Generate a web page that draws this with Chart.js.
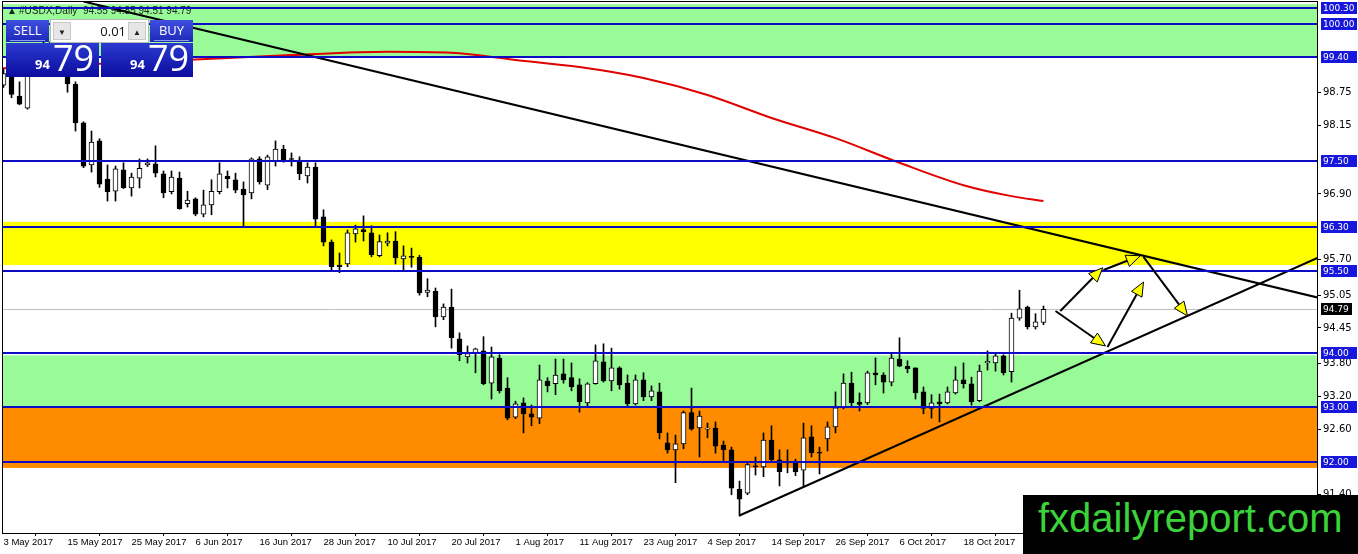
<!DOCTYPE html>
<html>
<head>
<meta charset="utf-8">
<title>#USDX,Daily</title>
<script src="https://cdn.jsdelivr.net/npm/chart.js@4.4.1/dist/chart.umd.min.js"></script>
<style>
	html, body { margin: 0; padding: 0; background: #fff; }
	#wrap { position: relative; width: 1358px; height: 554px; overflow: hidden; }
	#chart { position: absolute; left: 0; top: 0; }

	/* one-click trading panel */
	#panel { position: absolute; left: 5px; top: 19px; width: 189px; height: 58px; font-family: 'Open Sans', sans-serif; }
	#panel .btn { position: absolute; top: 1px; width: 43px; height: 22px; color: #fff; font-size: 13px; line-height: 21px; text-align: center;
		background: linear-gradient(#3f4fe0, #1d28b8); }
	#panel .btn:after { content: ''; position: absolute; left: 4px; right: 4px; bottom: 1px; height: 1px; background: #8f9cf0; }
	#panel .sell { left: 1px; }
	#panel .buy { left: 145px; }
	#panel .lot { position: absolute; left: 45px; top: 0; width: 97px; height: 22px; background: #fff; border: 1px solid #b8b8b8; }
	#panel .lot .arr { position: absolute; top: 2px; width: 18px; height: 18px; background: #e6e6e6; border: 1px solid #c8c8c8; box-sizing: border-box;
		font-size: 8px; line-height: 17px; text-align: center; color: #222; }
	#panel .lot .down { left: 2px; }
	#panel .lot .up { right: 2px; }
	#panel .lot .val { position: absolute; right: 22px; top: 0; font-size: 13px; line-height: 22px; color: #111; }
	#panel .price { position: absolute; top: 24px; height: 34px; color: #fff; background: linear-gradient(#2c3ad0, #0b0c9e); }
	#panel .p1 { left: 1px; width: 93px; }
	#panel .p2 { left: 96px; width: 92px; }
	#panel .price .sm { position: absolute; bottom: 4px; font-size: 13px; font-weight: bold; }
	#panel .price .lg { position: absolute; bottom: -5px; font-size: 36px; }
	#panel .p1 .sm { left: 29px; }
	#panel .p1 .lg { left: 47px; }
	#panel .p2 .sm { left: 29px; }
	#panel .p2 .lg { left: 47px; }

	#brand { position: absolute; left: 1023px; top: 495px; width: 335px; height: 59px; background: #000; }
	#brand span { position: absolute; left: 15px; top: 1px; font-family: 'Liberation Sans', Arial, sans-serif; font-size: 40px; color: #3ad43a; white-space: nowrap; }
</style>
</head>
<body>
<div id="wrap">
	<canvas id="chart" width="1358" height="554"></canvas>
	<div id="panel">
		<div class="btn sell">SELL</div>
		<div class="lot"><div class="arr down">&#9660;</div><span class="val">0.01</span><div class="arr up">&#9650;</div></div>
		<div class="btn buy">BUY</div>
		<div class="price p1"><span class="sm">94</span><span class="lg">79</span></div>
		<div class="price p2"><span class="sm">94</span><span class="lg">79</span></div>
	</div>
	<div id="brand"><span>fxdailyreport.com</span></div>
</div>
<script>
	// Daily bars, index 0 = 3 May 2017
	var opens = [
		98.89, 99.10, 98.69, 98.47, 99.10, 99.60, 99.62, 99.68, 99.15, 98.91,
		98.20, 97.43, 97.87, 97.17, 96.95, 97.34, 97.01, 97.19, 97.43, 97.45,
		97.27, 96.94, 97.19, 96.72, 96.81, 96.53, 96.70, 96.94, 97.22, 97.16,
		96.99, 96.92, 97.54, 97.06, 97.50, 97.72, 97.54, 97.52, 97.23, 97.39,
		96.48, 96.02, 95.60, 95.62, 96.17, 96.25, 96.19, 95.77, 96.00, 96.04,
		95.71, 95.75, 95.74, 95.10, 95.12, 94.65, 94.83, 94.25, 93.92, 93.98,
		94.03, 93.44, 93.90, 93.35, 92.82, 93.08, 92.88, 92.80, 93.48, 93.43,
		93.61, 93.54, 93.41, 93.08, 93.43, 93.83, 93.48, 93.72, 93.44, 93.06,
		93.50, 93.19, 93.28, 92.35, 92.22, 92.33, 92.90, 92.62, 92.60, 92.62,
		92.31, 92.22, 91.50, 91.43, 91.93, 91.91, 92.40, 92.04, 92.00, 91.98,
		91.85, 92.46, 92.17, 92.42, 92.64, 92.99, 93.44, 93.09, 93.08, 93.63,
		93.59, 93.46, 93.88, 93.75, 93.72, 93.28, 92.98, 93.10, 93.08, 93.26,
		93.50, 93.43, 93.12, 93.81, 93.81, 93.94, 93.65, 94.63, 94.83, 94.47,
		94.55
	];
	var highs = [
		99.20, 99.18, 98.95, 99.20, 99.65, 99.72, 99.75, 99.70, 99.25, 98.95,
		98.22, 98.05, 97.91, 97.43, 97.41, 97.47, 97.28, 97.54, 97.54, 97.78,
		97.32, 97.32, 97.30, 96.95, 96.83, 96.97, 97.16, 97.47, 97.32, 97.28,
		97.12, 97.56, 97.58, 97.61, 97.87, 97.79, 97.65, 97.58, 97.47, 97.47,
		96.61, 96.06, 95.82, 96.24, 96.33, 96.50, 96.32, 96.15, 96.19, 96.21,
		95.95, 95.91, 95.78, 95.35, 95.18, 94.89, 95.16, 94.36, 94.12, 94.08,
		94.29, 94.10, 93.96, 93.54, 93.11, 93.17, 93.04, 93.77, 93.54, 93.88,
		93.88, 93.81, 93.52, 93.45, 94.14, 94.16, 94.08, 93.74, 93.59, 93.59,
		93.63, 93.39, 93.44, 92.53, 92.49, 92.93, 93.35, 92.93, 92.71, 92.73,
		92.38, 92.27, 91.65, 91.98, 92.09, 92.53, 92.66, 92.22, 92.22, 92.05,
		92.71, 92.66, 92.27, 92.73, 93.28, 93.61, 93.64, 93.26, 93.66, 93.90,
		93.63, 93.97, 94.27, 93.85, 93.72, 93.37, 93.23, 93.24, 93.37, 93.74,
		93.81, 93.55, 93.77, 94.03, 93.97, 93.96, 94.72, 95.14, 94.85, 94.71,
		94.85
	];
	var lows = [
		98.85, 98.66, 98.53, 98.45, 99.08, 99.50, 99.55, 99.15, 98.76, 98.05,
		97.38, 97.30, 97.02, 96.77, 96.77, 97.00, 96.86, 97.01, 97.40, 97.21,
		96.83, 96.90, 96.62, 96.66, 96.50, 96.48, 96.52, 96.90, 97.01, 96.92,
		96.31, 96.81, 97.08, 96.98, 97.41, 97.48, 97.41, 97.16, 97.10, 96.31,
		95.95, 95.51, 95.46, 95.57, 96.02, 96.04, 95.75, 95.75, 95.95, 95.62,
		95.51, 95.56, 95.05, 95.02, 94.47, 94.60, 94.08, 93.85, 93.81, 93.63,
		93.41, 93.15, 93.26, 92.77, 92.79, 92.53, 92.66, 92.70, 93.28, 93.23,
		93.44, 93.30, 92.91, 93.02, 93.42, 93.46, 93.30, 93.33, 93.02, 93.04,
		93.12, 93.12, 92.42, 92.16, 91.62, 92.24, 92.58, 92.09, 92.44, 92.16,
		92.02, 91.40, 91.01, 91.40, 91.76, 91.73, 92.00, 91.56, 91.80, 91.75,
		91.54, 92.09, 91.78, 92.20, 92.53, 92.97, 93.02, 92.93, 93.05, 93.41,
		93.26, 93.39, 93.74, 93.63, 93.15, 92.88, 92.80, 92.73, 93.06, 93.24,
		93.35, 93.04, 93.10, 93.68, 93.66, 93.59, 93.46, 94.59, 94.43, 94.43,
		94.51
	];
	var closes = [
		99.10, 98.72, 98.54, 99.10, 99.60, 99.62, 99.68, 99.20, 98.91, 98.20,
		97.41, 97.85, 97.08, 96.94, 97.36, 97.01, 97.21, 97.37, 97.47, 97.28,
		96.92, 97.21, 96.63, 96.79, 96.53, 96.70, 96.95, 97.27, 97.18, 96.97,
		96.88, 97.54, 97.12, 97.58, 97.72, 97.50, 97.53, 97.27, 97.39, 96.44,
		96.02, 95.57, 95.57, 96.19, 96.26, 96.21, 95.79, 96.03, 96.04, 95.73,
		95.77, 95.74, 95.09, 95.14, 94.65, 94.83, 94.27, 93.96, 93.98, 94.07,
		93.43, 93.92, 93.30, 92.80, 93.06, 92.88, 92.82, 93.50, 93.39, 93.59,
		93.50, 93.37, 93.10, 93.43, 93.85, 93.48, 93.72, 93.41, 93.06, 93.50,
		93.19, 93.30, 92.53, 92.22, 92.33, 92.90, 92.60, 92.84, 92.61, 92.29,
		92.22, 91.52, 91.32, 91.95, 91.91, 92.40, 92.04, 91.82, 91.98, 91.82,
		92.44, 92.17, 92.16, 92.64, 92.99, 93.44, 93.08, 93.05, 93.63, 93.59,
		93.46, 93.90, 93.75, 93.70, 93.26, 92.98, 93.08, 93.06, 93.28, 93.50,
		93.43, 93.10, 93.66, 93.84, 93.94, 93.63, 94.63, 94.80, 94.47, 94.56,
		94.79
	];

	// Time axis: a date label every 8 bars
	var tickLabels = [
		'3 May 2017', '15 May 2017', '25 May 2017', '6 Jun 2017', '16 Jun 2017', '28 Jun 2017',
		'10 Jul 2017', '20 Jul 2017', '1 Aug 2017', '11 Aug 2017', '23 Aug 2017', '4 Sep 2017',
		'14 Sep 2017', '26 Sep 2017', '6 Oct 2017', '18 Oct 2017'
	];
	var tickStep = 8;

	// Price axis
	var priceTicks = [98.75, 98.15, 96.90, 95.70, 95.05, 94.45, 93.80, 93.20, 92.60, 91.40];
	var levels = [100.30, 100.00, 99.40, 97.50, 96.30, 95.50, 94.00, 93.00, 92.00];
	var lastPrice = 94.79;

	// Zones (price from / to)
	var zoneFrom = [100.37, 96.39, 93.95, 93.00];
	var zoneTo = [99.40, 95.60, 93.00, 91.89];

	// Moving average (bar index / price)
	var maIdx = [0, 12, 24, 36, 48, 56, 64, 72, 80, 88, 96, 104, 112, 120, 126, 130];
	var maVals = [99.20, 99.28, 99.36, 99.44, 99.50, 99.48, 99.35, 99.22, 99.02, 98.71, 98.29, 97.92, 97.47, 97.06, 96.86, 96.77];

	// Trend lines [bar index, price]
	var downTrend = [[10, 100.42], [165, 94.98]];
	var upTrend = [[92, 91.02], [165, 95.78]];

	// Arrows [from index, from price, to index, to price]
	var arrows = [
		[132.1, 94.76, 137.4, 95.55],
		[137.5, 95.51, 142.1, 95.77],
		[142.5, 95.75, 148.0, 94.67],
		[131.5, 94.76, 137.75, 94.12],
		[138.0, 94.10, 142.5, 95.29]
	];

	var zoneColors = ['#98fb98', '#ffff00', '#98fb98', '#ff8c00'];
	var levelColor = '#0c0cc4';
	var boxColor = '#1616dc';
	var boxFont = '9px "DejaVu Sans"';

	var bodies = opens.map(function (o, i) { return { x: i, y: [o, closes[i]] }; });
	var wicks = opens.map(function (o, i) { return { x: i, y: [lows[i], highs[i]] }; });
	var maPoints = maIdx.map(function (x, i) { return { x: x, y: maVals[i] }; });
	var toPoints = function (arr) {
		return arr.map(function (p) { return { x: p[0], y: p[1] }; });
	};

	var arrowHead = function (ctx, x1, y1, x2, y2) {
		var ang = Math.atan2(y2 - y1, x2 - x1);
		var len = 14, half = 6;
		var bx = x2 - Math.cos(ang) * len, by = y2 - Math.sin(ang) * len;
		ctx.beginPath();
		ctx.moveTo(x1, y1);
		ctx.lineTo(bx, by);
		ctx.strokeStyle = '#000';
		ctx.lineWidth = 2;
		ctx.stroke();
		ctx.beginPath();
		ctx.moveTo(x2, y2);
		ctx.lineTo(bx + Math.sin(ang) * half, by - Math.cos(ang) * half);
		ctx.lineTo(bx - Math.sin(ang) * half, by + Math.cos(ang) * half);
		ctx.closePath();
		ctx.fillStyle = '#ffff00';
		ctx.fill();
		ctx.lineWidth = 1;
		ctx.stroke();
	};

	// Zones, levels, arrows and axis boxes
	var drawings = {
		id: 'drawings',
		beforeDatasetsDraw: function (chart) {
			var ctx = chart.ctx, a = chart.chartArea, ys = chart.scales.y;
			ctx.save();
			ctx.beginPath();
			ctx.rect(a.left, a.top, a.right - a.left, a.bottom - a.top);
			ctx.clip();
			zoneFrom.forEach(function (v, i) {
				var y1 = ys.getPixelForValue(v), y2 = ys.getPixelForValue(zoneTo[i]);
				ctx.fillStyle = zoneColors[i];
				ctx.fillRect(a.left, y1, a.right - a.left, y2 - y1);
			});
			// bid line
			var py = Math.round(ys.getPixelForValue(lastPrice)) + 0.5;
			ctx.strokeStyle = '#c0c0c0';
			ctx.lineWidth = 1;
			ctx.beginPath();
			ctx.moveTo(a.left, py);
			ctx.lineTo(a.right, py);
			ctx.stroke();
			// chart title
			var n = opens.length - 1;
			ctx.fillStyle = '#222';
			ctx.font = '10px "Liberation Sans"';
			ctx.textBaseline = 'middle';
			ctx.fillText('\u25B2', 7, 11);
			ctx.fillText('#USDX,Daily  ' + [opens[n], highs[n], lows[n], closes[n]].map(function (v) { return v.toFixed(2); }).join(' '), 19, 11);
			ctx.restore();
		},
		afterDatasetsDraw: function (chart) {
			var ctx = chart.ctx, a = chart.chartArea, xs = chart.scales.x, ys = chart.scales.y;
			ctx.save();
			ctx.beginPath();
			ctx.rect(a.left, a.top, a.right - a.left, a.bottom - a.top);
			ctx.clip();
			ctx.strokeStyle = levelColor;
			ctx.lineWidth = 2;
			levels.forEach(function (v) {
				var y = Math.round(ys.getPixelForValue(v));
				ctx.beginPath();
				ctx.moveTo(a.left, y);
				ctx.lineTo(a.right, y);
				ctx.stroke();
			});
			arrows.forEach(function (p) {
				arrowHead(ctx, xs.getPixelForValue(p[0]), ys.getPixelForValue(p[1]),
					xs.getPixelForValue(p[2]), ys.getPixelForValue(p[3]));
			});
			ctx.restore();
			// frame
			ctx.save();
			ctx.strokeStyle = '#000';
			ctx.lineWidth = 1;
			ctx.strokeRect(a.left - 0.5, a.top - 0.5, a.right - a.left + 1, a.bottom - a.top + 1);
			ctx.restore();
		},
		afterDraw: function (chart) {
			var ctx = chart.ctx, a = chart.chartArea, ys = chart.scales.y;
			ctx.save();
			ctx.font = boxFont;
			ctx.textBaseline = 'middle';
			levels.forEach(function (v) {
				var y = Math.round(ys.getPixelForValue(v));
				ctx.fillStyle = boxColor;
				ctx.fillRect(a.right + 4, y - 6, 36, 12);
				ctx.fillStyle = '#fff';
				ctx.fillText(v.toFixed(2), a.right + 6, y + 0.5);
			});
			var py = Math.round(ys.getPixelForValue(lastPrice));
			ctx.fillStyle = '#000';
			ctx.fillRect(a.right + 4, py - 6, 31, 12);
			ctx.fillStyle = '#fff';
			ctx.fillText(lastPrice.toFixed(2), a.right + 6, py + 0.5);
			ctx.restore();
		}
	};

	var ctx1 = document.getElementById('chart').getContext('2d');
	var myChart1 = new Chart(ctx1, {
		type: 'bar',
		data: {
			datasets: [
				{
					type: 'line',
					data: maPoints,
					borderColor: '#e00000',
					borderWidth: 2,
					pointRadius: 0,
					cubicInterpolationMode: 'monotone',
					order: 1,
				},
				{
					type: 'line',
					data: toPoints(downTrend),
					borderColor: '#000',
					borderWidth: 2,
					pointRadius: 0,
					order: 0,
				},
				{
					type: 'line',
					data: toPoints(upTrend),
					borderColor: '#000',
					borderWidth: 2,
					pointRadius: 0,
					order: 0,
				},
				{
					data: bodies,
					backgroundColor: function (c) {
						return closes[c.dataIndex] >= opens[c.dataIndex] ? '#fff' : '#000';
					},
					borderColor: '#000',
					borderWidth: 1,
					borderSkipped: false,
					barThickness: 5,
					minBarLength: 1,
					grouped: false,
					order: 2,
				},
				{
					data: wicks,
					backgroundColor: '#000',
					borderWidth: 0,
					barThickness: 1,
					grouped: false,
					order: 3,
				},
			],
		},
		options: {
			responsive: false,
			animation: false,
			layout: { padding: { left: 3, top: 2, right: 0, bottom: 0 } },
			plugins: {
				legend: { display: false },
				tooltip: { enabled: false },
			},
			scales: {
				x: {
					type: 'linear',
					offset: false,
					min: -0.0625,
					max: 164.1875,
					border: { display: false },
					grid: { drawOnChartArea: false, tickLength: 3, color: '#000' },
					afterBuildTicks: function (s) {
						s.ticks = tickLabels.map(function (t, i) { return { value: i * tickStep }; });
					},
					afterFit: function (s) {
						s.height = 21;
						s.paddingLeft = 0;
						s.paddingRight = 0;
					},
					ticks: {
						autoSkip: false,
						maxRotation: 0,
						align: 'start',
						padding: 1,
						color: '#000',
						font: { family: 'Liberation Sans', size: 9.5 },
						callback: function (v) { return tickLabels[Math.round(v / tickStep)]; },
					},
				},
				y: {
					position: 'right',
					min: 90.70,
					max: 100.41,
					border: { display: false },
					grid: { drawOnChartArea: false, tickLength: 4, color: '#000' },
					afterBuildTicks: function (s) {
						s.ticks = priceTicks.map(function (v) { return { value: v }; });
					},
					afterFit: function (s) {
						s.width = 41;
						s.paddingTop = 0;
						s.paddingBottom = 0;
					},
					ticks: {
						padding: 2,
						color: '#000',
						font: { family: 'DejaVu Sans', size: 10 },
						callback: function (v) { return v.toFixed(2); },
					},
				},
			},
		},
		plugins: [drawings],
	});
</script>
</body>
</html>
